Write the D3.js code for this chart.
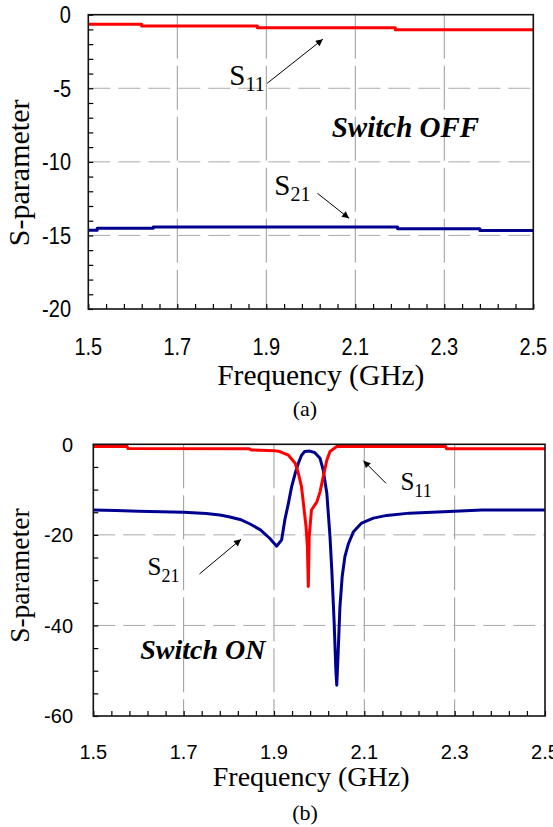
<!DOCTYPE html>
<html>
<head>
<meta charset="utf-8">
<script src="https://cdn.jsdelivr.net/npm/d3@7"></script>
<style>
  body { margin: 0; background: #fff; }
  svg { display: block; }
</style>
</head>
<body>
<div id="chart"></div>
<script>
// ---- data ----
const freqTicks = [1.5, 1.7, 1.9, 2.1, 2.3, 2.5];
const offYTicks = [0, -5, -10, -15, -20];
const onYTicks = [0, -20, -40, -60];

// switch OFF: stepped traces (freq GHz, dB)
const offS11 = [[1.5, -0.65], [1.62, -0.77], [1.88, -0.88], [2.19, -1.02], [2.5, -1.02]];
const offS21 = [[1.5, -14.64], [1.52, -14.52], [1.646, -14.43], [2.195, -14.55], [2.38, -14.66], [2.5, -14.66]];

// switch ON
const onS11 = [
  [1.5, -0.5], [1.575, -0.5], [1.577, -0.95], [1.845, -1.0], [1.85, -1.25], [1.9, -1.4],
  [1.913, -1.6], [1.932, -2.4], [1.947, -4.2], [1.954, -6.4], [1.961, -9.4], [1.966, -13.8],
  [1.971, -18.2], [1.974, -22.6], [1.976, -31.4], [1.978, -20.4], [1.983, -14.5], [1.995, -12.7],
  [2.002, -10.5], [2.009, -7.2], [2.017, -3.5], [2.024, -1.6], [2.039, -0.5], [2.28, -0.5],
  [2.282, -0.96], [2.5, -0.96]
];
const onS21 = [
  [1.5, -14.5], [1.55, -14.6], [1.6, -14.8], [1.65, -14.9], [1.7, -15.0], [1.75, -15.3],
  [1.78, -15.6], [1.8, -16.0], [1.825, -16.6], [1.847, -17.6], [1.87, -18.9], [1.891, -20.8],
  [1.906, -22.5], [1.917, -21.1], [1.924, -16.7], [1.932, -13.0], [1.939, -9.4], [1.947, -6.4],
  [1.954, -4.2], [1.961, -2.4], [1.968, -1.6], [1.979, -1.5], [1.99, -1.8], [2.002, -3.1],
  [2.009, -5.7], [2.017, -10.8], [2.024, -20.4], [2.028, -27.8], [2.033, -38.8], [2.037, -49.9],
  [2.039, -53.2], [2.042, -46.2], [2.046, -35.9], [2.051, -29.2], [2.057, -24.8], [2.065, -21.9],
  [2.076, -19.3], [2.094, -17.4], [2.12, -16.3], [2.15, -15.7], [2.2, -15.2], [2.25, -15.0],
  [2.3, -14.8], [2.36, -14.5], [2.5, -14.5]
];

// annotations in data coordinates
const offNotes = [
  { sub: "11", at: [1.817, -4.78], arrow: [[1.902, -4.66], [2.027, -1.67]] },
  { sub: "21", at: [1.918, -12.26], arrow: [[2.015, -12.14], [2.086, -13.84]] }
];
const onNotes = [
  { sub: "11", at: [2.18, -10.09], arrow: [[2.148, -8.61], [2.098, -3.62]] },
  { sub: "21", at: [1.62, -28.86], arrow: [[1.735, -28.64], [1.827, -20.98]] }
];

const RED = "#ff0000", BLUE = "#000090";
const serif = "'Liberation Serif', 'Times New Roman', serif";
const sans = "'Liberation Sans', Arial, sans-serif";

const svg = d3.select("#chart").append("svg")
    .attr("width", 553)
    .attr("height", 827);

svg.append("defs").append("marker")
    .attr("id", "arrow")
    .attr("viewBox", "0 0 10 10")
    .attr("refX", 10).attr("refY", 5)
    .attr("markerWidth", 8).attr("markerHeight", 7)
    .attr("markerUnits", "userSpaceOnUse")
    .attr("orient", "auto")
    .append("path")
    .attr("d", "M0,0L10,5L0,10z")
    .attr("fill", "#000");

function panel(o) {
    var x = d3.scaleLinear().domain([1.5, 2.5]).range([o.left, o.right]);
    var y = d3.scaleLinear().domain([o.ymin, 0]).range([o.bottom, o.top]);
    var g = svg.append("g");

    // grid lines
    g.append("g").selectAll("line")
        .data(freqTicks.slice(1, -1))
        .join("line")
        .attr("x1", d => x(d)).attr("x2", d => x(d))
        .attr("y1", o.top).attr("y2", o.bottom)
        .attr("stroke", "#9a9a9a")
        .attr("stroke-dasharray", "44,7");
    g.append("g").selectAll("line")
        .data(o.yTicks.slice(1, -1))
        .join("line")
        .attr("x1", o.left).attr("x2", o.right)
        .attr("y1", d => y(d)).attr("y2", d => y(d))
        .attr("stroke", "#aaaaaa")
        .attr("stroke-dasharray", "22,8");

    // inside ticks (minor + major)
    var minorX = d3.range(0, 26).map(i => 1.5 + i * 0.04);
    var minorY = d3.range(0, -o.ymin / o.yMinor + 1).map(i => -i * o.yMinor);
    g.append("g")
        .attr("transform", "translate(0," + o.bottom + ")")
        .call(d3.axisTop(x).tickValues(minorX).tickSize(5).tickSizeOuter(0).tickFormat(""))
        .call(a => a.select(".domain").remove());
    g.append("g")
        .attr("transform", "translate(" + o.left + ",0)")
        .call(d3.axisRight(y).tickValues(minorY).tickSize(5).tickSizeOuter(0).tickFormat(""))
        .call(a => a.select(".domain").remove());
    g.selectAll(".tick line").attr("stroke", "#000").attr("stroke-width", 1.2);

    // traces
    var line = d3.line()
        .x(d => x(d[0]))
        .y(d => y(d[1]))
        .curve(o.curve);
    g.append("path").datum(o.s21)
        .attr("fill", "none").attr("stroke", BLUE).attr("stroke-width", 3)
        .attr("stroke-linejoin", "round")
        .attr("d", line);
    g.append("path").datum(o.s11)
        .attr("fill", "none").attr("stroke", RED).attr("stroke-width", 3)
        .attr("stroke-linejoin", "round")
        .attr("d", line);

    // frame
    g.append("rect")
        .attr("x", o.left).attr("y", o.top)
        .attr("width", o.right - o.left).attr("height", o.bottom - o.top)
        .attr("fill", "none").attr("stroke", "#111").attr("stroke-width", 1.6);

    // tick labels
    g.append("g").selectAll("text")
        .data(freqTicks)
        .join("text")
        .attr("transform", d => "translate(" + x(d) + "," + o.xLabelY + ") scale(1," + o.sy + ")")
        .attr("text-anchor", "middle")
        .style("font-family", sans).style("font-size", "20px")
        .text(d => d.toFixed(1));
    g.append("g").selectAll("text")
        .data(o.yTicks)
        .join("text")
        .attr("transform", d => "translate(" + o.yLabelX + "," + y(d) + ") scale(1," + o.sy + ")")
        .attr("text-anchor", "end")
        .attr("dy", "0.36em")
        .style("font-family", sans).style("font-size", "20px")
        .text(d => d);

    // axis titles
    g.append("text")
        .attr("x", (o.left + o.right) / 2 + o.xTitleDx).attr("y", o.xTitleY)
        .attr("text-anchor", "middle")
        .style("font-family", serif).style("font-size", o.titleSize + "px")
        .text("Frequency (GHz)");
    g.append("text")
        .attr("transform", "translate(" + 29 + "," + ((o.top + o.bottom) / 2 + o.yTitleDy) + ") rotate(-90)")
        .attr("text-anchor", "middle")
        .style("font-family", serif).style("font-size", o.yTitleSize + "px")
        .text("S-parameter");
    g.append("text")
        .attr("x", 305).attr("y", o.capY)
        .attr("text-anchor", "middle")
        .style("font-family", serif).style("font-size", "22px")
        .text(o.caption);

    // state label
    g.append("text")
        .attr("x", x(o.state.at[0])).attr("y", y(o.state.at[1]))
        .style("font-family", serif).style("font-size", o.stateSize + "px")
        .style("font-weight", "bold").style("font-style", "italic")
        .text(o.state.text);

    // S11 / S21 notes with arrows
    o.notes.forEach(function (n) {
        var t = g.append("text")
            .attr("x", x(n.at[0])).attr("y", y(n.at[1]))
            .style("font-family", serif).style("font-size", o.sSize + "px");
        t.append("tspan").text("S");
        t.append("tspan").attr("dy", o.subDy).style("font-size", o.subSize + "px").text(n.sub);
        g.append("line")
            .attr("x1", x(n.arrow[0][0])).attr("y1", y(n.arrow[0][1]))
            .attr("x2", x(n.arrow[1][0])).attr("y2", y(n.arrow[1][1]))
            .attr("stroke", "#000").attr("stroke-width", 1)
            .attr("marker-end", "url(#arrow)");
    });
}

panel({
    left: 88.3, right: 533.3, top: 14.7, bottom: 309,
    ymin: -20, yTicks: offYTicks, yMinor: 1, sy: 1.17,
    xLabelY: 355, yLabelX: 71, xTitleY: 385, xTitleDx: 10, titleSize: 29.5,
    yTitleSize: 30, yTitleDy: 11, capY: 416, caption: "(a)",
    s11: offS11, s21: offS21, curve: d3.curveStepAfter,
    state: { text: "Switch OFF", at: [2.047, -8.29] }, stateSize: 29,
    notes: offNotes, sSize: 29, subSize: 20, subDy: 6
});

panel({
    left: 93.3, right: 545, top: 444.3, bottom: 716,
    ymin: -60, yTicks: onYTicks, yMinor: 5, sy: 1,
    xLabelY: 759, yLabelX: 73, xTitleY: 786, xTitleDx: -8, titleSize: 28,
    yTitleSize: 27.5, yTitleDy: -4.5, capY: 820, caption: "(b)",
    s11: onS11, s21: onS21, curve: d3.curveLinear,
    state: { text: "Switch ON", at: [1.604, -47.48] }, stateSize: 28,
    notes: onNotes, sSize: 25, subSize: 18, subDy: 7
});
</script>
</body>
</html>
